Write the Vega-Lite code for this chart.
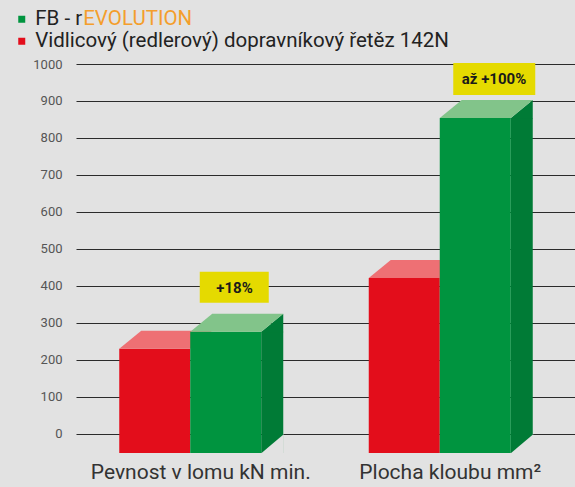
{
  "$schema": "https://vega.github.io/schema/vega-lite/v6.json",
  "width": 499,
  "height": 392,
  "autosize": "none",
  "padding": {"left": 76, "top": 64, "right": 0, "bottom": 31},
  "background": "#e2e2e2",
  "config": {"view": {"stroke": null}, "font": "Roboto"},
  "data": {
    "values": [
      {"category": "Pevnost v lomu kN min.", "series": "Vidlicový (redlerový) dopravníkový řetěz 142N", "value": 230, "note": null},
      {"category": "Pevnost v lomu kN min.", "series": "FB - rEVOLUTION", "value": 276, "note": "+18%"},
      {"category": "Plocha kloubu mm²", "series": "Vidlicový (redlerový) dopravníkový řetěz 142N", "value": 421, "note": null},
      {"category": "Plocha kloubu mm²", "series": "FB - rEVOLUTION", "value": 854, "note": "až +100%"}
    ]
  },
  "encoding": {
    "x": {
      "field": "category", "type": "nominal", "sort": null,
      "scale": {"paddingInner": 0, "paddingOuter": 0},
      "axis": {"title": null, "domain": false, "ticks": false, "labelAngle": 0, "labelFontSize": 21, "labelColor": "#333333", "labelPadding": 5, "labelFont": "Roboto", "labelLimit": 0}
    },
    "y": {
      "field": "value", "type": "quantitative",
      "scale": {"domain": [-60, 1000], "nice": false},
      "axis": {"title": null, "format": "d", "values": [0, 100, 200, 300, 400, 500, 600, 700, 800, 900, 1000], "domain": false, "ticks": false, "grid": true, "gridColor": "#2b2b2b", "gridOpacity": 1, "gridWidth": 1, "labelFontSize": 13, "labelColor": "#555555", "labelPadding": 14, "labelFont": "Roboto"}
    }
  },
  "layer": [
    {
      "transform": [{"filter": "datum.series != 'FB - rEVOLUTION'"}],
      "mark": {"type": "bar", "width": 71, "xOffset": -46},
      "encoding": {
        "y2": {"datum": -52},
        "color": {
          "field": "series", "type": "nominal",
          "scale": {"domain": ["FB - rEVOLUTION", "Vidlicový (redlerový) dopravníkový řetěz 142N"], "range": ["#00943f", "#e30d1b"]},
          "legend": {
            "title": null, "orient": "none", "legendX": -64.5, "legendY": -55, "direction": "vertical",
            "symbolType": "square", "symbolSize": 49, "symbolStrokeWidth": 0,
            "labelFontSize": 20.5, "labelColor": "#222222", "labelOffset": 3.2, "rowPadding": 1, "padding": 0, "labelLimit": 600, "labelFont": "Roboto",
            "labelExpr": "datum.label == 'FB - rEVOLUTION' ? 'FB - r' : datum.label",
            "encode": {"symbols": {"update": {"fill": {"signal": "datum.value == 'FB - rEVOLUTION' ? '#3aaa35' : '#e30613'"}}}}
          }
        }
      }
    },
    {
      "transform": [{"filter": "datum.series != 'FB - rEVOLUTION'"}],
      "mark": {"type": "point", "shape": "M-81.5,0L-10.5,0L11.5,-18L-59.5,-18Z", "size": 4, "filled": true, "color": "#ee7074", "opacity": 1, "strokeWidth": 0}
    },
    {
      "transform": [{"filter": "datum.series == 'FB - rEVOLUTION'"}],
      "mark": {"type": "bar", "width": 71, "xOffset": 25},
      "encoding": {"y2": {"datum": -52}, "color": {"field": "series", "type": "nominal"}}
    },
    {
      "transform": [{"filter": "datum.series == 'FB - rEVOLUTION'"}],
      "mark": {"type": "bar", "width": 22, "xOffset": 71.5, "color": "#007b36"},
      "encoding": {"y2": {"datum": -52}}
    },
    {
      "transform": [{"filter": "datum.series == 'FB - rEVOLUTION'"}],
      "mark": {"type": "point", "shape": "M60.5,19.5L83,19.5L83,0.5Z", "size": 4, "filled": true, "color": "#e2e2e2", "opacity": 1, "strokeWidth": 0},
      "encoding": {"y": {"datum": 0}}
    },
    {
      "transform": [{"filter": "datum.series == 'FB - rEVOLUTION'"}],
      "mark": {"type": "point", "shape": "M60,0.5L82.5,-18L82.5,0.5Z", "size": 4, "filled": true, "color": "#007b36", "opacity": 1, "strokeWidth": 0}
    },
    {
      "transform": [{"filter": "datum.series == 'FB - rEVOLUTION'"}],
      "mark": {"type": "point", "shape": "M-10.5,0L60.5,0L82.5,-18L11.5,-18Z", "size": 4, "filled": true, "color": "#82c48a", "opacity": 1, "strokeWidth": 0}
    },
    {
      "transform": [{"filter": "datum.note == '+18%'"}],
      "mark": {"type": "point", "shape": "M-1,-60H68V-29H-1Z", "size": 4, "filled": true, "color": "#e5da00", "opacity": 1, "strokeWidth": 0}
    },
    {
      "transform": [{"filter": "datum.note == '+18%'"}],
      "mark": {"type": "text", "dx": 33.75, "dy": -44, "fontWeight": "bold", "fontSize": 15, "color": "#1a1a1a", "align": "center", "baseline": "middle", "font": "Roboto"},
      "encoding": {"text": {"field": "note"}}
    },
    {
      "transform": [{"filter": "datum.note == 'až +100%'"}],
      "mark": {"type": "point", "shape": "M3,-55H85V-23H3Z", "size": 4, "filled": true, "color": "#e5da00", "opacity": 1, "strokeWidth": 0}
    },
    {
      "transform": [{"filter": "datum.note == 'až +100%'"}],
      "mark": {"type": "text", "dx": 43.75, "dy": -39, "fontWeight": "bold", "fontSize": 15, "color": "#1a1a1a", "align": "center", "baseline": "middle", "font": "Roboto"},
      "encoding": {"text": {"field": "note"}}
    },
    {
      "transform": [{"filter": "datum.series == 'FB - rEVOLUTION'"}],
      "mark": {"type": "point", "opacity": 0},
      "encoding": {
        "shape": {
          "field": "series", "type": "nominal",
          "scale": {"domain": ["FB - rEVOLUTION"], "range": ["square"]},
          "legend": {
            "title": null, "orient": "none", "legendX": -16.5, "legendY": -55,
            "symbolOpacity": 0, "symbolSize": 49, "symbolStrokeWidth": 0,
            "labelFontSize": 20.5, "labelColor": "#f49e2c", "labelOffset": 3.2, "padding": 0, "labelFont": "Roboto",
            "labelExpr": "'EVOLUTION'"
          }
        }
      }
    }
  ]
}
